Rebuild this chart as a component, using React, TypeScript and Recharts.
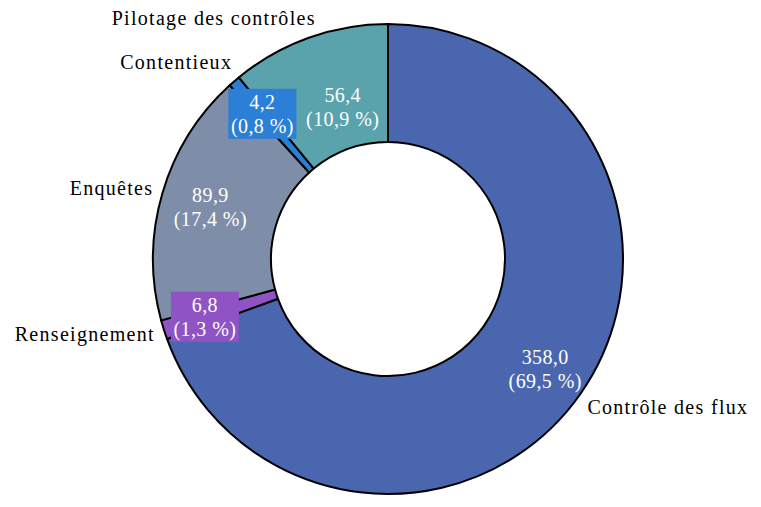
import { Cell, Pie, PieChart } from "recharts";

const categories = [
  "Contrôle des flux",
  "Renseignement",
  "Enquêtes",
  "Contentieux",
  "Pilotage des contrôles",
];
const values = [358.0, 6.8, 89.9, 4.2, 56.4];
const colors = ["#4a66ae", "#8f53c4", "#7e8da8", "#2b7fd6", "#5aa3ad"];
// slices whose value label sits in a coloured box
const boxed = ["Renseignement", "Contentieux"];

// small nudges for label placement (px)
const nameNudge: Record<string, [number, number]> = {
  "Contrôle des flux": [7, 20],
  Renseignement: [-9, 11],
  Enquêtes: [-9, 2],
  Contentieux: [-2, -12],
  "Pilotage des contrôles": [7, -13],
};
const valueNudge: Record<string, [number, number]> = {
  "Contrôle des flux": [0, 0],
  Renseignement: [0, 0],
  Enquêtes: [0, 0],
  Contentieux: [0, 0],
  "Pilotage des contrôles": [9, 0],
};

const data = categories.map((name, i) => ({ name, value: values[i] }));

const FONT = "'Liberation Serif', serif";
const RAD = Math.PI / 180;

const fmt = (n: number, d: number) => n.toFixed(d).replace(".", ",");

function renderLabel(props: any) {
  const { cx, cy, midAngle, outerRadius, name, value, percent, index } = props;
  const cos = Math.cos(-midAngle * RAD);
  const sin = Math.sin(-midAngle * RAD);
  const vr = name === "Pilotage des contrôles" ? 161 : name === "Enquêtes" ? 185 : 192;
  const [vdx, vdy] = valueNudge[name];
  const vx = cx + vr * cos + vdx;
  const vy = cy + vr * sin + vdy;
  const ox = cx + outerRadius * cos;
  const oy = cy + outerRadius * sin;
  const [ndx, ndy] = nameNudge[name];
  const right = cos >= 0 && name !== "Pilotage des contrôles";
  const isBoxed = boxed.includes(name);
  return (
    <g>
      {isBoxed && (
        <rect
          x={vx - 34}
          y={vy - 25}
          width={68}
          height={50}
          fill={colors[index]}
        />
      )}
      <text
        x={vx}
        y={vy - 5}
        textAnchor="middle"
        fill="#fff"
        fontFamily={FONT}
        fontSize={20}
        letterSpacing={0.4}
      >
        {fmt(value, 1)}
      </text>
      <text
        x={vx}
        y={vy + 19}
        textAnchor="middle"
        fill="#fff"
        fontFamily={FONT}
        fontSize={20}
        letterSpacing={0.4}
      >
        ({fmt(percent * 100, 1)} %)
      </text>
      <text
        x={ox + ndx}
        y={oy + ndy}
        textAnchor={right ? "start" : "end"}
        fill="#000"
        fontFamily={FONT}
        fontSize={20}
        letterSpacing={1.3}
      >
        {name}
      </text>
    </g>
  );
}

export default function App() {
  return (
    <div style={{ position: "absolute", left: 0, top: 0, background: "#fff" }}>
      <PieChart width={761} height={507}>
        <Pie
          data={data}
          dataKey="value"
          nameKey="name"
          cx={383}
          cy={254}
          innerRadius={117}
          outerRadius={235}
          startAngle={90}
          endAngle={-270}
          stroke="#000"
          strokeWidth={2}
          label={renderLabel}
          labelLine={false}
          isAnimationActive={false}
        >
          {data.map((d, i) => (
            <Cell key={d.name} fill={colors[i]} />
          ))}
        </Pie>
      </PieChart>
    </div>
  );
}
